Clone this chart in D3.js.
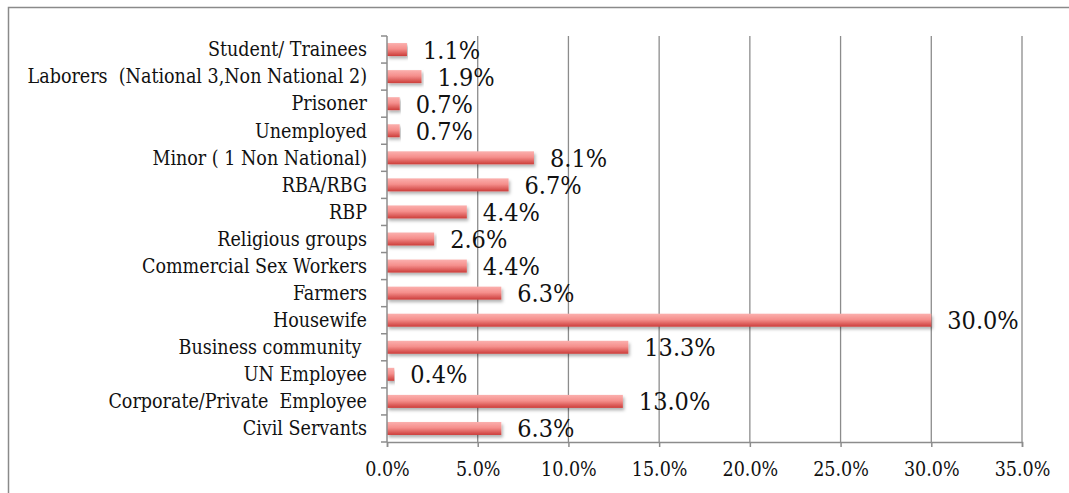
<!DOCTYPE html>
<html>
<head>
<meta charset="utf-8">
<script src="https://cdn.jsdelivr.net/npm/d3@7"></script>
<style>
  body { margin: 0; background: #fff; }
  svg text { font-family: "DejaVu Serif Condensed", "DejaVu Serif", serif; font-stretch: condensed; fill: #111; }
  .cat text { font-size: 19.5px; white-space: pre; }
  .xax text { font-size: 19.5px; }
  .val { font-size: 25px; }
</style>
</head>
<body>
<div id="chart"></div>
<script>
// categories top to bottom
const categories = [
  "Student/ Trainees",
  "Laborers  (National 3,Non National 2)",
  "Prisoner",
  "Unemployed",
  "Minor ( 1 Non National)",
  "RBA/RBG",
  "RBP",
  "Religious groups",
  "Commercial Sex Workers",
  "Farmers",
  "Housewife",
  "Business community ",
  "UN Employee",
  "Corporate/Private  Employee",
  "Civil Servants"
];
const values = [1.1, 1.9, 0.7, 0.7, 8.1, 6.7, 4.4, 2.6, 4.4, 6.3, 30.0, 13.3, 0.4, 13.0, 6.3];
const xTicks = [0, 5, 10, 15, 20, 25, 30, 35];

const W = 1069, H = 493;
const margin = {top: 36, right: 47, left: 387};
const width = W - margin.left - margin.right;
const height = 406;

const svg = d3.select("#chart").append("svg")
  .attr("width", W)
  .attr("height", H);

// outer frame (only left + top visible in the crop)
svg.append("path")
  .attr("d", `M8.5,${H} L8.5,7.5 L${W},7.5`)
  .attr("fill", "none")
  .attr("stroke", "#8a8a8a")
  .attr("stroke-width", 1.5);

const defs = svg.append("defs");
const grad = defs.append("linearGradient")
  .attr("id", "barGrad")
  .attr("x1", 0).attr("y1", 0).attr("x2", 0).attr("y2", 1);
grad.append("stop").attr("offset", "0%").attr("stop-color", "#fbb0ae");
grad.append("stop").attr("offset", "45%").attr("stop-color", "#f58f8c");
grad.append("stop").attr("offset", "100%").attr("stop-color", "#cc3d3a");

const shadow = defs.append("filter").attr("id", "shadow")
  .attr("x", "-5%").attr("y", "-30%").attr("width", "110%").attr("height", "180%");
shadow.append("feDropShadow")
  .attr("dx", 1.5).attr("dy", 2.5).attr("stdDeviation", 1.5)
  .attr("flood-color", "#000").attr("flood-opacity", 0.3);

const g = svg.append("g")
  .attr("transform", `translate(${margin.left},${margin.top})`);

const x = d3.scaleLinear().domain([0, 35]).range([0, width]);
const y = d3.scaleBand().domain(categories).range([0, height]).paddingInner(0.52).paddingOuter(0.26);

// gridlines
g.append("g")
  .selectAll("line")
  .data(xTicks.slice(1))
  .join("line")
  .attr("x1", d => x(d)).attr("x2", d => x(d))
  .attr("y1", 0).attr("y2", height)
  .attr("stroke", "#8c8c8c")
  .attr("stroke-width", 1.3);

// bars
g.append("g")
  .selectAll("rect")
  .data(values)
  .join("rect")
  .attr("x", 0)
  .attr("y", (d, i) => y(categories[i]))
  .attr("width", d => x(d))
  .attr("height", y.bandwidth())
  .attr("fill", "url(#barGrad)")
  .attr("filter", "url(#shadow)");

// value labels
g.append("g")
  .selectAll("text")
  .data(values)
  .join("text")
  .attr("class", "val")
  .attr("x", d => x(d) + 16)
  .attr("y", (d, i) => y(categories[i]) + y.bandwidth() / 2 + 9)
  .text(d => d.toFixed(1) + "%");

// y axis with ticks at band boundaries
const yAxis = g.append("g").attr("class", "cat");
yAxis.append("line")
  .attr("x1", 0).attr("x2", 0).attr("y1", 0).attr("y2", height)
  .attr("stroke", "#8c8c8c").attr("stroke-width", 1.5);
yAxis.selectAll("line.tk")
  .data(d3.range(categories.length + 1))
  .join("line")
  .attr("class", "tk")
  .attr("x1", -6).attr("x2", 0)
  .attr("y1", i => i * height / categories.length)
  .attr("y2", i => i * height / categories.length)
  .attr("stroke", "#8c8c8c").attr("stroke-width", 1.5);
yAxis.selectAll("text")
  .data(categories)
  .join("text")
  .attr("x", -20)
  .attr("y", d => y(d) + y.bandwidth() / 2)
  .attr("dy", "0.35em")
  .attr("text-anchor", "end")
  .text(d => d);

// x axis
const xAxis = d3.axisBottom(x)
  .tickValues(xTicks)
  .tickSize(5)
  .tickPadding(15)
  .tickFormat(d => d.toFixed(1) + "%");
const xg = g.append("g")
  .attr("class", "xax")
  .attr("transform", `translate(0,${height})`)
  .call(xAxis);
xg.selectAll("path, line").attr("stroke", "#8c8c8c").attr("stroke-width", 1.5);
</script>
</body>
</html>
